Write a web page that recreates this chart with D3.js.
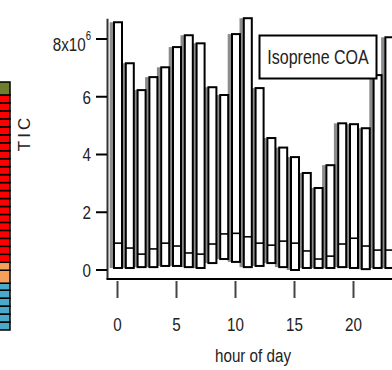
<!DOCTYPE html>
<html><head><meta charset="utf-8">
<script src="https://cdn.jsdelivr.net/npm/d3@7"></script>
<style>
html,body{margin:0;padding:0;background:#fff;overflow:hidden}
svg{display:block}
text{font-family:'Liberation Sans',Arial,sans-serif;fill:#222}
</style></head><body>
<svg id="c" width="392" height="370"></svg>
<script>
// values in units of 10^6 (TIC)
const hours   = [0,1,2,3,4,5,6,7,8,9,10,11,12,13,14,15,16,17,18,19,20,21,22,23];
const highs   = [8.58,7.16,6.23,6.68,7.02,7.72,8.13,7.85,6.33,6.06,8.17,8.72,6.30,4.57,4.24,3.91,3.36,2.84,3.63,5.08,5.05,4.91,6.75,8.06];
const medians = [0.93,0.76,0.55,0.73,0.93,0.83,0.59,0.55,0.90,1.25,1.27,1.15,0.93,0.86,1.00,0.93,0.66,0.38,0.48,0.90,1.10,0.83,0.69,0.69];
const lows    = [0.07,0.07,0.10,0.10,0.14,0.14,0.10,0.07,0.24,0.38,0.28,0.10,0.14,0.24,0.10,0.00,0.07,0.07,0.07,0.10,0.07,0.03,0.07,0.07];
const xTicks = [0,5,10,15,20];
const yTicks = [0,2,4,6,8];
const yTickLabels = ["0","2","4","6","8x10"];
const yExponent = "6";
const legendLabel = "Isoprene COA";
const xTitle = "hour of day";
const yTitle = "TIC";
// neighbouring panel's stacked bar (segment sizes, bottom to top)
const leftSegs   = [8,8,8,8,8,7,13,8,8,8,8,8,8,8,8,8,8,8,8,8,8,8,8,8,8,8,8,8,8,13];
const leftColors = ["#4aa9c9","#4aa9c9","#4aa9c9","#4aa9c9","#4aa9c9","#4aa9c9","#f4a05a","#f4a05a",
  "#ff0000","#ff0000","#ff0000","#ff0000","#ff0000","#ff0000","#ff0000","#ff0000","#ff0000","#ff0000","#ff0000",
  "#ff0000","#ff0000","#ff0000","#ff0000","#ff0000","#ff0000","#ff0000","#ff0000","#ff0000","#ff0000","#6e7d2e"];

const SX = 0.8; // condensed text
const svg = d3.select('#c');
const x = d3.scaleLinear().domain([0,20]).range([117.5,353.5]);
const y = d3.scaleLinear().domain([0,8]).range([270,39]);

function ctext(px, py, size, anchor){
  return svg.append('text')
    .attr('transform',`translate(${px},${py}) scale(${SX},1)`)
    .attr('text-anchor',anchor).attr('font-size',size);
}

// left neighbour stacked bar
let cum = 0;
const stack = leftSegs.map((v,i)=>{const s={y0:cum,y1:cum+v,c:leftColors[i]};cum+=v;return s;});
const ly = d3.scaleLinear().domain([0,cum]).range([330,82]);
svg.append('g').selectAll('rect').data(stack).join('rect')
  .attr('x',-2).attr('width',12)
  .attr('y',d=>ly(d.y1)).attr('height',d=>ly(d.y0)-ly(d.y1))
  .attr('fill',d=>d.c).attr('stroke','#000').attr('stroke-width',1.5);

// bars
const g = svg.append('g');
g.selectAll('rect.sh').data(hours).join('rect').attr('class','sh')
  .attr('x',h=>x(h)-7.8).attr('width',3.8)
  .attr('y',h=>y(highs[h])).attr('height',h=>y(lows[h])-y(highs[h]))
  .attr('fill','#8c8c8c');
g.selectAll('rect.bx').data(hours).join('rect').attr('class','bx')
  .attr('x',h=>x(h)-3.5).attr('width',8)
  .attr('y',h=>y(highs[h])).attr('height',h=>y(lows[h])-y(highs[h]))
  .attr('fill','#fff').attr('stroke','#000').attr('stroke-width',2);
g.selectAll('line.md').data(hours).join('line').attr('class','md')
  .attr('x1',h=>x(h)-3.5).attr('x2',h=>x(h)+4.5)
  .attr('y1',h=>y(medians[h])).attr('y2',h=>y(medians[h]))
  .attr('stroke','#000').attr('stroke-width',1.6);

// frame
const yBot = y(-0.31), yTop = y(8.7);
svg.append('line').attr('x1',107.5).attr('x2',107.5).attr('y1',yTop).attr('y2',yBot)
  .attr('stroke','#333').attr('stroke-width',2);
svg.append('line').attr('x1',106.5).attr('x2',392).attr('y1',yBot).attr('y2',yBot)
  .attr('stroke','#000').attr('stroke-width',2);

// y ticks
svg.selectAll('line.yt').data(yTicks).join('line').attr('class','yt')
  .attr('x1',96).attr('x2',107).attr('y1',d=>y(d)).attr('y2',d=>y(d))
  .attr('stroke','#000').attr('stroke-width',2);
yTicks.forEach((v,i)=>{
  const last = i===yTicks.length-1;
  const t = ctext(91, y(v)+(last?5:0), 19, 'end').attr('dy','0.36em');
  t.append('tspan').text(yTickLabels[i]);
  if(last){
    t.append('tspan').attr('font-size',12).attr('dy',-11).text(yExponent);
  }
});

// x ticks
svg.selectAll('line.xt').data(xTicks).join('line').attr('class','xt')
  .attr('x1',d=>x(d)).attr('x2',d=>x(d)).attr('y1',281).attr('y2',298)
  .attr('stroke','#444').attr('stroke-width',2);
xTicks.forEach(d=>{ ctext(x(d), 331, 19, 'middle').text(d); });

ctext(253, 362, 19, 'middle').text(xTitle);
svg.append('text').attr('transform','translate(30,133) rotate(-90)')
  .attr('text-anchor','middle').attr('font-size',17).attr('letter-spacing',3).text(yTitle);

// legend
svg.append('rect').attr('x',259.5).attr('y',35.5).attr('width',117).attr('height',43)
  .attr('fill','#fff').attr('stroke','#000').attr('stroke-width',2);
ctext(318, 64, 20, 'middle').text(legendLabel);
</script>
</body></html>
